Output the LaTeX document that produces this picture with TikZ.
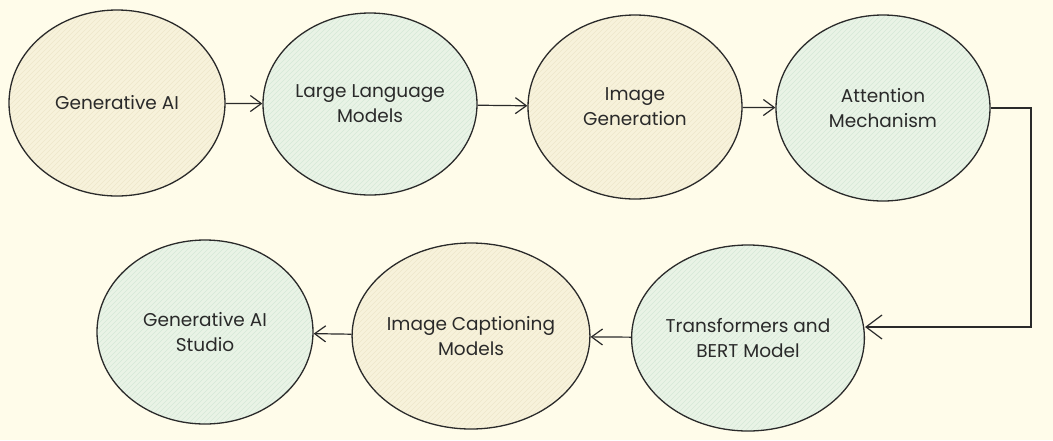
\documentclass[tikz,border=0pt]{standalone}
\usepackage{fontspec}
\setmainfont{Poppins}
\usetikzlibrary{shapes.geometric,arrows.meta}
\definecolor{bg}{HTML}{FFFCEA}
\definecolor{yfill}{HTML}{F7F2DB}
\definecolor{yhatch}{HTML}{EEE7CA}
\definecolor{gfill}{HTML}{E9F3E6}
\definecolor{ghatch}{HTML}{D5E9D8}
\definecolor{ink}{HTML}{2A2A2A}
\tikzset{
  hatch/.style={path picture={
    \foreach \k in {-45,...,45}
      \draw[#1,line width=0.6pt] ([shift={(\k*5-150,150)}]path picture bounding box.center) -- ++(300,-300);
  }},
  bubble/.style={ellipse,draw=ink,line width=1.3pt,inner sep=0pt,align=center,
    font=\fontsize{18.5}{25}\selectfont,text=ink},
  ybub/.style={bubble,fill=yfill,hatch=yhatch},
  gbub/.style={bubble,fill=gfill,hatch=ghatch},
  arr/.style={draw=ink,line width=1.2pt,-{Straight Barb[length=11pt,width=16pt,line width=1.2pt]}},
  bigarr/.style={draw=ink,line width=1.2pt,-{Straight Barb[length=16pt,width=24pt,line width=1.2pt]}}
}
\begin{document}
\begin{tikzpicture}[x=1pt,y=-1pt]
\fill[bg] (0,0) rectangle (1053,440);
\useasboundingbox (0,0) rectangle (1053,440);
\node[ybub,minimum width=216pt,minimum height=186pt] (g1) at (117,103) {Generative AI};
\node[gbub,minimum width=214pt,minimum height=182pt] (g2) at (370,104) {Large Language\\Models};
\node[ybub,minimum width=214pt,minimum height=184pt] (g3) at (635,107) {Image\\Generation};
\node[gbub,minimum width=214pt,minimum height=186pt] (g4) at (883,108) {Attention\\Mechanism};
\node[gbub,minimum width=220pt,minimum height=186pt] (g5) at (748,338) {Transformers and\\BERT Model};
\node[ybub,minimum width=218pt,minimum height=186pt] (g6) at (471,336) {Image Captioning\\Models};
\node[gbub,minimum width=216pt,minimum height=184pt] (g7) at (205,332) {Generative AI\\Studio};
\draw[arr] (g1) -- (g2);
\draw[arr] (g2) -- (g3);
\draw[arr] (g3) -- (g4);
\coordinate (c1) at (1031,327);
\draw[bigarr] (g4.east) -| (c1) -- (g5.east |- c1);
\draw[arr] (g5) -- (g6);
\draw[arr] (g6) -- (g7);
\end{tikzpicture}
\end{document}
